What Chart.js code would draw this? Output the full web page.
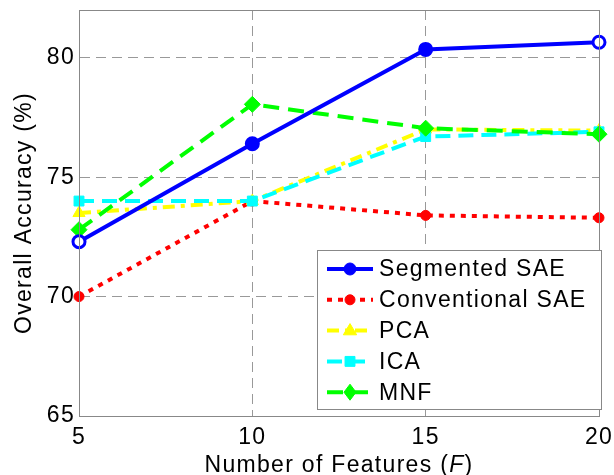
<!DOCTYPE html>
<html>
<head>
<meta charset="utf-8">
<script src="https://cdn.jsdelivr.net/npm/chart.js@4/dist/chart.umd.min.js"></script>
<style>
  html, body { margin: 0; padding: 0; background: #fff; }
  #wrap { width: 614px; height: 475px; }
</style>
</head>
<body>
<div id="wrap"><canvas id="myChart" width="614" height="475"></canvas></div>
<script>
// data
const features = [5, 10, 15, 20];
const segmentedSAE = [72.3, 76.4, 80.35, 80.65];
const conventionalSAE = [70.0, 74.0, 73.4, 73.3];
const pca = [73.5, 74.0, 77.0, 76.95];
const ica = [74.0, 74.0, 76.7, 76.9];
const mnf = [72.8, 78.05, 77.05, 76.8];
const yTicks = [65, 70, 75, 80];
const xTicks = [5, 10, 15, 20];

const FONT = '"Liberation Sans", Arial, Helvetica, sans-serif';
const FSIZE = 23;
const SPACING = '1.3px';

function pts(values) {
  return features.map((f, i) => ({ x: f, y: values[i] }));
}

const datasets = [
  {
    label: 'Segmented SAE', data: pts(segmentedSAE),
    borderColor: '#0000ff', borderWidth: 4,
    pointStyle: 'circle', pointRadius: 6,
    pointBackgroundColor: ['#ffffff', '#0000ff', '#0000ff', '#ffffff'],
    pointBorderColor: '#0000ff', pointBorderWidth: 3,
    order: 0
  },
  {
    label: 'Conventional SAE', data: pts(conventionalSAE),
    borderColor: '#ff0000', borderWidth: 4, borderDash: [5, 6],
    pointStyle: 'circle', pointRadius: 5,
    pointBackgroundColor: '#ff0000', pointBorderColor: '#ff0000', pointBorderWidth: 1,
    order: 4
  },
  {
    label: 'PCA', data: pts(pca),
    borderColor: '#ffff00', borderWidth: 4, borderDash: [12, 6, 4, 6],
    pointStyle: 'triangle', pointRadius: 7,
    pointBackgroundColor: '#ffff00', pointBorderColor: '#ffff00', pointBorderWidth: 1,
    order: 3
  },
  {
    label: 'ICA', data: pts(ica),
    borderColor: '#00ffff', borderWidth: 4, borderDash: [15, 8],
    pointStyle: 'rect', pointRadius: 7,
    pointBackgroundColor: '#00ffff', pointBorderColor: '#00ffff', pointBorderWidth: 1,
    order: 2
  },
  {
    label: 'MNF', data: pts(mnf),
    borderColor: '#00ff00', borderWidth: 4, borderDash: [16, 9],
    pointStyle: 'rectRot', pointRadius: 8,
    pointBackgroundColor: '#00ff00', pointBorderColor: '#00ff00', pointBorderWidth: 1,
    order: 1
  }
];
datasets.forEach(d => { d.fill = false; d.tension = 0; d.clip = false; });

function drawMarker(ctx, style, r, x, y, fill, stroke, bw) {
  ctx.save();
  ctx.setLineDash([]);
  ctx.fillStyle = fill;
  ctx.strokeStyle = stroke;
  ctx.lineWidth = bw;
  ctx.beginPath();
  if (style === 'circle') {
    ctx.arc(x, y, r, 0, Math.PI * 2);
  } else if (style === 'triangle') {
    ctx.moveTo(x, y - r);
    ctx.lineTo(x + r * 0.95, y + r * 0.6);
    ctx.lineTo(x - r * 0.95, y + r * 0.6);
    ctx.closePath();
  } else if (style === 'rect') {
    const s = r * Math.SQRT1_2;
    ctx.rect(x - s, y - s, 2 * s, 2 * s);
  } else if (style === 'rectRot') {
    ctx.moveTo(x, y - r);
    ctx.lineTo(x + r * 0.75, y);
    ctx.lineTo(x, y + r);
    ctx.lineTo(x - r * 0.75, y);
    ctx.closePath();
  }
  ctx.fill();
  ctx.stroke();
  ctx.restore();
}

// MATLAB-like box, axis titles with italic F, legend inside plot
const boxPlugin = {
  id: 'boxPlugin',
  beforeDraw: (chart) => {
    // text in the figure is rendered a bit wide
    chart.ctx.letterSpacing = SPACING;
  },
  afterDraw: (chart) => {
    const ctx = chart.ctx;
    const a = chart.chartArea;
    ctx.save();
    ctx.letterSpacing = SPACING;
    ctx.strokeStyle = '#888888';
    ctx.lineWidth = 1;
    ctx.setLineDash([]);
    ctx.strokeRect(a.left + 0.5, a.top + 0.5, a.right - a.left, a.bottom - a.top);

    // x axis title
    ctx.fillStyle = '#000';
    ctx.textBaseline = 'alphabetic';
    const part1 = 'Number of Features (';
    const part2 = 'F';
    const part3 = ')';
    ctx.font = FSIZE + 'px ' + FONT;
    const w1 = ctx.measureText(part1).width;
    const w3 = ctx.measureText(part3).width;
    ctx.font = 'italic ' + FSIZE + 'px ' + FONT;
    const w2 = ctx.measureText(part2).width;
    const cx = (a.left + a.right) / 2;
    const x = cx - (w1 + w2 + w3) / 2;
    const by = 472;
    ctx.font = FSIZE + 'px ' + FONT;
    ctx.textAlign = 'left';
    ctx.fillText(part1, x, by);
    ctx.font = 'italic ' + FSIZE + 'px ' + FONT;
    ctx.fillText(part2, x + w1, by);
    ctx.font = FSIZE + 'px ' + FONT;
    ctx.fillText(part3, x + w1 + w2, by);

    // y axis title
    ctx.save();
    ctx.translate(25, (a.top + a.bottom) / 2);
    ctx.rotate(-Math.PI / 2);
    ctx.textAlign = 'center';
    ctx.textBaseline = 'middle';
    ctx.font = FSIZE + 'px ' + FONT;
    ctx.fillText('Overall Accuracy (%)', 0, 0);
    ctx.restore();

    // legend
    const lx = 317, ly = 250, lw = 284, lh = 159;
    ctx.fillStyle = '#ffffff';
    ctx.fillRect(lx, ly, lw, lh);
    ctx.strokeStyle = '#888888';
    ctx.lineWidth = 1;
    ctx.strokeRect(lx + 0.5, ly + 0.5, lw, lh);
    chart.data.datasets.forEach((d, i) => {
      const y = ly + 19 + i * 30.8;
      ctx.save();
      ctx.strokeStyle = d.borderColor;
      ctx.lineWidth = d.borderWidth;
      ctx.setLineDash(d.borderDash || []);
      ctx.beginPath();
      ctx.moveTo(lx + 10, y);
      ctx.lineTo(lx + 56, y);
      ctx.stroke();
      ctx.restore();
      const fill = Array.isArray(d.pointBackgroundColor) ? d.borderColor : d.pointBackgroundColor;
      drawMarker(ctx, d.pointStyle, d.pointRadius, lx + 33, y, fill, d.pointBorderColor, 1);
      ctx.fillStyle = '#000';
      ctx.font = FSIZE + 'px ' + FONT;
      ctx.textAlign = 'left';
      ctx.textBaseline = 'middle';
      ctx.fillText(d.label, lx + 62, y + 1);
    });
    ctx.restore();
  }
};

const config = {
  type: 'line',
  data: { datasets: datasets },
  options: {
    responsive: false,
    animation: false,
    devicePixelRatio: 1,
    layout: { padding: { left: 0, right: 15, top: 10, bottom: 0 } },
    plugins: {
      legend: { display: false },
      tooltip: { enabled: false }
    },
    scales: {
      x: {
        type: 'linear',
        min: 5,
        max: 20,
        afterBuildTicks: (scale) => { scale.ticks = xTicks.map(v => ({ value: v })); },
        afterFit: (scale) => {
          scale.height = 59;
          scale.paddingLeft = 0;
          scale.paddingRight = 0;
        },
        ticks: {
          color: '#000',
          font: { family: FONT, size: FSIZE },
          padding: 8,
          maxRotation: 0
        },
        grid: {
          drawTicks: false,
          color: (c) => (c.tick && (c.tick.value === 5 || c.tick.value === 20)) ? 'rgba(0,0,0,0)' : '#999999',
          lineWidth: 1
        },
        border: { display: true, color: '#888888', dash: [10, 6] }
      },
      y: {
        min: 65,
        max: 82,
        afterBuildTicks: (scale) => { scale.ticks = yTicks.map(v => ({ value: v })); },
        afterFit: (scale) => {
          scale.width = 79;
          scale.paddingTop = 0;
          scale.paddingBottom = 0;
        },
        ticks: {
          color: '#000',
          font: { family: FONT, size: FSIZE },
          padding: 4
        },
        grid: {
          drawTicks: false,
          color: (c) => (c.tick && c.tick.value === 65) ? 'rgba(0,0,0,0)' : '#999999',
          lineWidth: 1
        },
        border: { display: true, color: '#888888', dash: [10, 6] }
      }
    }
  },
  plugins: [boxPlugin]
};

const myChart = new Chart(document.getElementById('myChart'), config);
</script>
</body>
</html>
